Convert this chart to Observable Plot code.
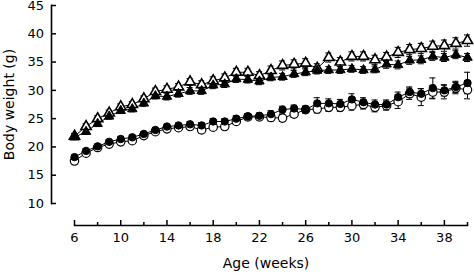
<!DOCTYPE html>
<html>
<head>
<meta charset="utf-8">
<script src="https://cdn.jsdelivr.net/npm/d3@7"></script>
<script src="https://cdn.jsdelivr.net/npm/@observablehq/plot@0.6"></script>
<style>
  html, body { margin: 0; padding: 0; background: #fff; }
  #chart { width: 474px; height: 276px; }
</style>
</head>
<body>
<div id="chart"></div>
<script>
const weeks = [6,7,8,9,10,11,12,13,14,15,16,17,18,19,20,21,22,23,24,25,26,27,28,29,30,31,32,33,34,35,36,37,38,39,40];

const openTri = [21.9,23.6,25.0,26.0,27.1,27.5,28.5,29.8,30.2,30.6,31.5,31.0,31.7,32.2,33.2,33.2,32.6,33.5,34.4,34.6,34.8,33.9,35.8,35.0,36.0,36.0,35.4,35.9,36.7,37.2,37.4,37.8,37.9,38.3,38.8];
const openTriSE = [0.5,0.5,0.5,0.5,0.5,0.5,0.5,0.6,0.6,0.6,0.6,0.7,0.7,0.7,0.7,0.7,0.7,0.8,0.8,0.8,0.8,0.8,0.8,0.8,0.8,0.8,0.8,0.8,0.9,0.9,0.9,0.9,1.0,1.0,1.0];

const filledTri = [21.7,22.7,24.1,25.4,26.4,26.7,27.7,29.0,28.9,29.4,29.9,29.9,30.9,31.1,32.0,31.9,31.6,32.3,32.4,32.9,33.2,33.5,33.6,33.6,33.8,33.6,33.7,34.6,34.5,35.3,35.4,36.0,35.8,36.3,35.8];
const filledTriSE = [0.4,0.5,0.5,0.5,0.5,0.5,0.5,0.5,0.6,0.6,0.6,0.6,0.6,0.6,0.6,0.6,0.6,0.6,0.6,0.6,0.6,0.6,0.6,0.6,0.6,0.6,0.6,0.7,0.7,0.7,0.7,0.7,0.7,0.7,0.7];

const filledCirc = [18.2,19.3,20.1,20.9,21.4,21.7,22.3,23.0,23.6,23.8,24.0,23.8,24.5,24.5,25.0,25.4,25.5,25.8,26.6,26.8,26.6,27.7,27.7,27.6,28.4,27.9,27.5,27.5,28.8,29.7,29.4,30.4,30.0,30.6,31.3];
const filledCircSE = [0.4,0.4,0.4,0.4,0.4,0.4,0.4,0.4,0.4,0.4,0.5,0.5,0.5,0.5,0.5,0.5,0.5,0.6,0.6,0.6,0.6,1.0,0.8,0.8,1.0,0.8,0.8,0.8,0.9,0.9,0.9,1.8,1.0,1.0,1.9];

const openCirc = [17.5,18.9,19.9,20.5,20.9,21.1,22.0,22.7,23.2,23.4,23.6,23.0,23.5,23.6,24.5,25.3,25.3,25.2,25.1,25.8,26.6,26.7,27.0,27.0,27.3,27.5,27.0,27.3,28.0,29.4,28.8,29.7,29.7,30.4,30.1];
const openCircSE = [0.4,0.4,0.4,0.4,0.4,0.4,0.4,0.4,0.4,0.4,0.5,0.5,0.5,0.5,0.5,0.5,0.5,0.6,0.6,0.6,0.6,0.7,0.7,0.7,0.8,0.8,0.8,0.8,1.2,1.0,1.5,1.2,1.2,1.0,1.6];

const xMajorTicks = [6,10,14,18,22,26,30,34,38];
const xMinorTicks = [8,12,16,20,24,28,32,36,40];
const yTicks = [10,15,20,25,30,35,40,45];

const xTitle = "Age (weeks)";
const yTitle = "Body weight (g)";

function rows(vals, se) {
  return weeks.map((w, i) => ({w, v: vals[i], se: se[i]}));
}
const sOpenTri = rows(openTri, openTriSE);
const sFilledTri = rows(filledTri, filledTriSE);
const sOpenCirc = rows(openCirc, openCircSE);
const sFilledCirc = rows(filledCirc, filledCircSE);

const capHalf = 0.26;
function errMarks(data) {
  return [
    Plot.ruleX(data, {x: "w", y1: d => d.v - d.se, y2: d => d.v + d.se, stroke: "#000", strokeWidth: 1}),
    Plot.ruleY(data, {y: d => d.v + d.se, x1: d => d.w - capHalf, x2: d => d.w + capHalf, stroke: "#000", strokeWidth: 1}),
    Plot.ruleY(data, {y: d => d.v - d.se, x1: d => d.w - capHalf, x2: d => d.w + capHalf, stroke: "#000", strokeWidth: 1})
  ];
}

const font = "'DejaVu Sans', Verdana, sans-serif";

const chart = Plot.plot({
  width: 474,
  height: 276,
  marginLeft: 74,
  marginRight: 7,
  marginTop: 5,
  marginBottom: 73,
  style: {fontFamily: font, fontSize: "13px", color: "#000", background: "#fff"},
  x: {domain: [6, 40]},
  y: {domain: [10, 45]},
  marks: [
    // axes
    Plot.frame({anchor: "left", dx: -23, stroke: "#000", strokeWidth: 1.6}),
    Plot.axisY({ticks: yTicks, tickSize: -5, dx: -23, tickPadding: 12.5, label: null, fontSize: 13, strokeWidth: 1.5}),
    Plot.frame({anchor: "bottom", dy: 22, stroke: "#000", strokeWidth: 1.6}),
    Plot.axisX({ticks: xMajorTicks, tickSize: -5, dy: 22, tickPadding: 12, label: null, fontSize: 13, strokeWidth: 1.5}),
    Plot.axisX({ticks: xMinorTicks, tickSize: -3, dy: 22, tickFormat: () => "", label: null, strokeWidth: 1.5}),
    Plot.text([xTitle], {frameAnchor: "bottom", textAnchor: "middle", dy: 64, dx: -5, fontSize: 14}),
    Plot.text([yTitle], {frameAnchor: "left", textAnchor: "middle", dx: -65, rotate: -90, fontSize: 14}),
    // lines
    Plot.line(sOpenTri, {x: "w", y: "v", stroke: "#000", strokeWidth: 1}),
    Plot.line(sFilledTri, {x: "w", y: "v", stroke: "#000", strokeWidth: 1}),
    Plot.line(sOpenCirc, {x: "w", y: "v", stroke: "#000", strokeWidth: 1}),
    Plot.line(sFilledCirc, {x: "w", y: "v", stroke: "#000", strokeWidth: 1}),
    // error bars
    ...errMarks(sOpenTri),
    ...errMarks(sFilledTri),
    ...errMarks(sOpenCirc),
    ...errMarks(sFilledCirc),
    // markers
    Plot.dot(sOpenTri, {x: "w", y: "v", symbol: "triangle", r: 3.8, fill: "#fff", stroke: "#000", strokeWidth: 1.6}),
    Plot.dot(sFilledTri, {x: "w", y: "v", symbol: "triangle", r: 3.5, fill: "#000", stroke: "#000", strokeWidth: 1}),
    Plot.dot(sOpenCirc, {x: "w", y: "v", symbol: "circle", r: 4.2, fill: "#fff", stroke: "#000", strokeWidth: 1.2}),
    Plot.dot(sFilledCirc, {x: "w", y: "v", symbol: "circle", r: 3.7, fill: "#000", stroke: "#000", strokeWidth: 1})
  ]
});
document.getElementById("chart").appendChild(chart);
</script>
</body>
</html>
